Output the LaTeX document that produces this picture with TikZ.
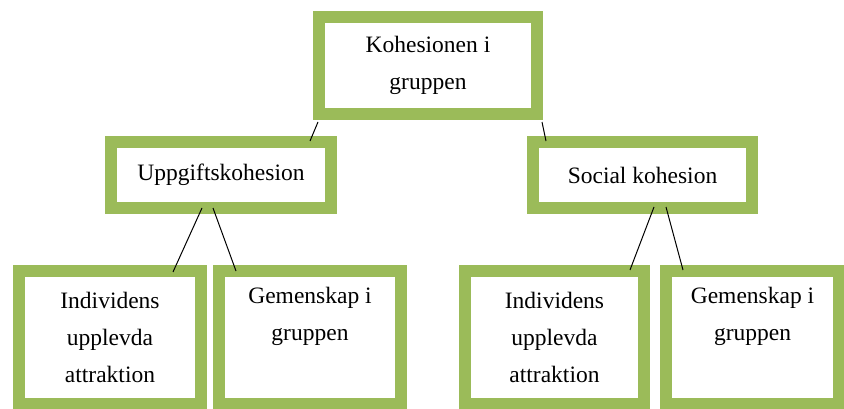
\documentclass[tikz,border=0pt]{standalone}
\usepackage{fontspec}
\setmainfont{Liberation Serif}
\definecolor{boxgreen}{HTML}{9BBB59}
\begin{document}
\begin{tikzpicture}[x=1pt,y=-1pt]
  \useasboundingbox (0,0) rectangle (844,409);
  \clip (0,0) rectangle (844,409);
  \begin{scope}
    [box/.style={draw=boxgreen, line width=12pt, fill=white, align=center,
      inner sep=0pt, font=\fontsize{23.5}{37}\selectfont},
    mid/.style={box, minimum width=220, minimum height=66},
    leaf/.style={box, minimum height=133},
    link/.style={black, line width=1pt}]
    \node[box, minimum width=218, minimum height=97] (top) at (428,65.5) {Kohesionen i\\gruppen};
    \node[mid] (upp) at (221,175) {Uppgiftskohesion};
    \node[mid, minimum width=219] (soc) at (642.5,175) {Social kohesion};
    \node[leaf, minimum width=182] (ind1) at (110,337.5) {Individens\\upplevda\\attraktion};
    \node[leaf, minimum width=182] (gem1) at (310,337.5) {Gemenskap i\\gruppen\\\strut};
    \node[leaf, minimum width=179] (ind2) at (554.5,337.5) {Individens\\upplevda\\attraktion};
    \node[leaf, minimum width=173] (gem2) at (752.5,337.5) {Gemenskap i\\gruppen\\\strut};
    % connectors
    \draw[link] ([shift={(5,2)}]top.south west) -- ([shift={(-27,5)}]upp.north east);
    \draw[link] ([shift={(-1,2)}]top.south east) -- ([shift={(19,5)}]soc.north west);
    \draw[link] ([shift={(-19,-6)}]upp.south) -- ([shift={(-34,7)}]ind1.north east);
    \draw[link] ([shift={(-8,-6)}]upp.south) -- ([shift={(23,6)}]gem1.north west);
    \draw[link] ([shift={(11.5,-7)}]soc.south) -- ([shift={(-20,5)}]ind2.north east);
    \draw[link] ([shift={(23.5,-7)}]soc.south) -- ([shift={(23,5)}]gem2.north west);
  \end{scope}
\end{tikzpicture}
\end{document}
